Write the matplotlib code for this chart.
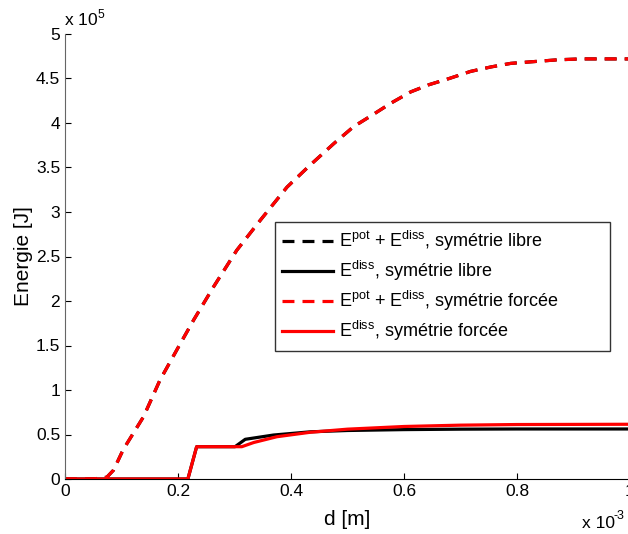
import numpy as np
import matplotlib
matplotlib.use("Agg")
import matplotlib.pyplot as plt

plt.rcParams['font.family'] = ['Liberation Sans', 'DejaVu Sans']
plt.rcParams['lines.scale_dashes'] = False
plt.rcParams['mathtext.fontset'] = 'custom'
plt.rcParams['mathtext.rm'] = 'Liberation Sans'

# d en unités de 1e-3 m, énergies en unités de 1e5 J
d_tot = [0, 0.05, 0.074, 0.086, 0.103, 0.139, 0.168, 0.204, 0.228, 0.263, 0.304,
         0.346, 0.393, 0.431, 0.476, 0.511, 0.544, 0.576, 0.612, 0.644, 0.680,
         0.718, 0.754, 0.789, 0.830, 0.872, 0.913, 0.978, 1.0]
e_tot = [0, 0, 0.02, 0.10, 0.33, 0.70, 1.11, 1.52, 1.79, 2.16, 2.57,
         2.91, 3.28, 3.51, 3.77, 3.96, 4.09, 4.22, 4.35, 4.43, 4.50,
         4.58, 4.63, 4.67, 4.69, 4.71, 4.72, 4.72, 4.72]

d_libre = [0, 0.2175, 0.233, 0.301, 0.319, 0.369, 0.434, 0.5, 0.6, 0.7, 0.8, 1.0]
e_libre = [0, 0, 0.363, 0.363, 0.446, 0.494, 0.53, 0.545, 0.555, 0.56, 0.562, 0.562]

d_force = [0, 0.2175, 0.233, 0.313, 0.334, 0.375, 0.434, 0.5, 0.6, 0.7, 0.8, 1.0]
e_force = [0, 0, 0.363, 0.363, 0.41, 0.475, 0.525, 0.56, 0.59, 0.605, 0.612, 0.615]

labels = [r'E$^{\rm pot}$ + E$^{\rm diss}$, symétrie libre',
          r'E$^{\rm diss}$, symétrie libre',
          r'E$^{\rm pot}$ + E$^{\rm diss}$, symétrie forcée',
          r'E$^{\rm diss}$, symétrie forcée']

fig = plt.figure(figsize=(6.28, 5.34), dpi=100)
ax = fig.add_axes([65 / 628, 1 - 479 / 534, 565 / 628, 445 / 534])

lw = 2.3
dash = (8.6, 5.8)
ax.plot(d_tot, e_tot, color='black', lw=lw, dashes=dash, label=labels[0])
ax.plot(d_libre, e_libre, color='black', lw=lw, label=labels[1])
ax.plot(d_tot, e_tot, color='red', lw=lw, dashes=dash, label=labels[2])
ax.plot(d_force, e_force, color='red', lw=lw, label=labels[3])

ax.set_xlim(0, 1)
ax.set_ylim(0, 5)
ax.set_xticks([0, 0.2, 0.4, 0.6, 0.8, 1])
ax.set_xticklabels(['0', '0.2', '0.4', '0.6', '0.8', '1'])
ax.set_yticks(np.arange(0, 5.01, 0.5))
ax.set_yticklabels(['0', '0.5', '1', '1.5', '2', '2.5', '3', '3.5', '4', '4.5', '5'])
ax.tick_params(direction='in', length=4, labelsize=12.5, width=0.8)
ax.spines['top'].set_visible(False)
ax.spines['right'].set_visible(False)
ax.spines['left'].set_color('#666666')
ax.spines['bottom'].set_color('black')

ax.set_xlabel('d [m]', fontsize=15, labelpad=8)
ax.set_ylabel('Energie [J]', fontsize=15, labelpad=2)

# facteurs d'échelle des axes
fig.text(64 / 628, 1 - 18 / 534, r'x 10$^{5}$', fontsize=12.5, ha='left', va='center')
fig.text(582 / 628, 1 - 524 / 534, 'x 10', fontsize=12.5, ha='left', va='center')
fig.text(613 / 628, 1 - 516 / 534, '-3', fontsize=9, ha='left', va='center')

# boîte de légende élargie à droite comme dans MATLAB
x0 = (275 - 65) / 565
y_top = (479 - 222) / 445
w = (610 - 275) / 565
leg = ax.legend(loc='upper left', bbox_to_anchor=(x0, y_top - 0.3, w, 0.3), mode='expand',
                fontsize=13, frameon=True, fancybox=False, edgecolor='black',
                handlelength=2.8, borderpad=0.4, labelspacing=0.33, handletextpad=0.35,
                borderaxespad=0)
leg.get_frame().set_linewidth(1.0)

fig.savefig('out.png', dpi=100)
